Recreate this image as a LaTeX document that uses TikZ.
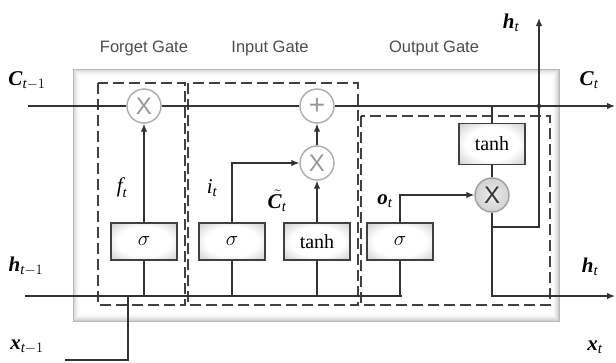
\documentclass[tikz,border=0pt]{standalone}
\usepackage{amsmath}
\usepackage{fontspec}
\setmainfont{Liberation Serif}
\newfontfamily\gatefont{Liberation Sans}
\usetikzlibrary{arrows.meta}
\newcommand{\bvar}[1]{\textbf{\textit{#1}}}
\newcommand{\ivar}[1]{\textit{#1}}
\pgfdeclareradialshading{boxglow}{\pgfpoint{0bp}{0bp}}{color(0bp)=(white); color(20bp)=(white); color(32bp)=(gray!30); color(44bp)=(gray!60); color(50bp)=(gray!75); color(75bp)=(gray!80)}
\pgfdeclareradialshading{dotglow}{\pgfpoint{0bp}{0bp}}{color(0bp)=(gray!15); color(25bp)=(gray!35); color(40bp)=(gray!55); color(50bp)=(gray!65)}
\begin{document}
\begin{tikzpicture}[x=1pt,y=-1pt,
        wire/.style={draw=black!80, line width=1.3pt},
        arr/.style={wire, -{Latex[length=8pt,width=6.5pt]}},
        gatebox/.style={draw=black!75, line width=1.3pt, minimum width=66pt, minimum height=37pt, inner sep=0pt, shading=boxglow, font=\fontsize{20}{20}\selectfont},
        opnode/.style={circle, draw=gray!65, line width=1.4pt, fill=white, minimum size=34pt, inner sep=0pt, text=gray!80, font=\gatefont\fontsize{24}{24}\selectfont},
        region/.style={draw=black!75, line width=1.8pt, dash pattern=on 11pt off 5pt},
        gatename/.style={text=black!70, font=\gatefont\fontsize{16.5}{18}\selectfont},
        varname/.style={font=\fontsize{21}{24}\selectfont}]
        \useasboundingbox (0,0) rectangle (616,362);
        % cell frame
        \foreach \i/\g in {0/38,1/28,2/20,3/14,4/9,5/5,6/2}
            \fill[gray!\g] (73+\i,69+\i) rectangle (559-\i,321-\i);
        \fill[white] (80,76) rectangle (552,314);
        \draw[gray!55, line width=1pt] (73,69) rectangle (559,321);
        % gate regions
        \draw[region] (98,83) rectangle (185,305);
        \draw[region] (188,83) rectangle (358,305);
        \draw[region] (361,116) rectangle (550,305);
        \node[gatename] (nameF) at (144,48) {Forget Gate};
        \node[gatename] (nameI) at (270,48) {Input Gate};
        \node[gatename] (nameO) at (434,48) {Output Gate};
        % pointwise operations
        \node[opnode] (mulF) at (144,106) {X};
        \node[opnode, font=\gatefont\fontsize{28}{28}\selectfont] (plus) at (317,106) {+};
        \node[opnode] (mulI) at (317,163) {X};
        \node[opnode, shading=dotglow, draw=gray!75, text=black!80] (mulO) at (492,195) {X};
        % layers
        \node[gatebox] (sigF) at (144,241.5) {$\sigma$};
        \node[gatebox] (sigI) at (232,241.5) {$\sigma$};
        \node[gatebox] (tanhI) at (317,241.5) {tanh};
        \node[gatebox] (sigO) at (400,241.5) {$\sigma$};
        \node[gatebox, minimum height=41pt] (tanhO) at (492,144) {tanh};
        % end points
        \coordinate (cin) at (28,106);
        \coordinate (cout) at (615,106);
        \coordinate (ctap) at (492,106);
        \coordinate (hcross) at (539,106);
        \coordinate (hin) at (25,296);
        \coordinate (hend) at (402,296);
        \coordinate (xin) at (65,360);
        \coordinate (xjoin) at (128,296);
        \coordinate (hbr) at (492,227);
        \coordinate (htop) at (539,18);
        \coordinate (hout) at (615,296);
        % cell state
        \draw[wire] (cin) -- (mulF) -- (plus);
        \draw[arr] (plus) -- (cout);
        \draw[wire] (ctap) -- (tanhO) -- (mulO);
        % inputs
        \draw[wire] (hin) -- (hend);
        \draw[wire] (xin) -| (xjoin);
        \foreach \b in {sigF,sigI,tanhI,sigO}
            \draw[wire] (\b.south) -- (\b.south |- hin);
        \draw[arr] (sigF) -- (mulF);
        \draw[arr] (sigI.north) |- (mulI);
        \draw[arr] (tanhI) -- (mulI);
        \draw[arr] (mulI) -- (plus);
        \draw[arr] (sigO.north) |- (mulO);
        % outputs
        \draw[arr] (mulO) |- (hout);
        \draw[arr] (hbr) -| (htop);
        \fill[black!80] (hcross) circle (2.2pt);
        % labels
        \node[varname] (lCprev) at (27,81) {$\bvar{C}_{\ivar{t}-1}$};
        \node[varname] (lCnext) at (589,80) {$\bvar{C}_{\ivar{t}}$};
        \node[varname] (lhtop) at (511,23) {$\bvar{h}_{\ivar{t}}$};
        \node[varname] (lhprev) at (26,266) {$\bvar{h}_{\ivar{t}-1}$};
        \node[varname] (lhnext) at (590,267) {$\bvar{h}_{\ivar{t}}$};
        \node[varname] (lxprev) at (27,347) {$\bvar{x}_{\ivar{t}-1}$};
        \node[varname] (lxnext) at (595,347) {$\bvar{x}_{\ivar{t}}$};
        \node[varname] (lf) at (122,188) {$\ivar{f}_{\ivar{t}}$};
        \node[varname] (li) at (212,188) {$\ivar{i}_{\ivar{t}}$};
        \node[varname] (lCtil) at (277,201) {${\tilde{\bvar{C}\mkern5mu}}\mkern-5mu{}_{\ivar{t}}$};
        \node[varname] (lo) at (385,201) {$\bvar{o}_{\ivar{t}}$};
\end{tikzpicture}
\end{document}
